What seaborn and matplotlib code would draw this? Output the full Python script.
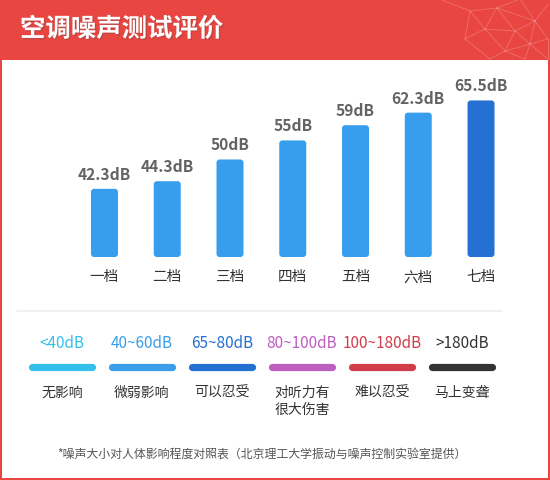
import numpy as np
import pandas as pd
import matplotlib
matplotlib.use("Agg")
import matplotlib.pyplot as plt
import seaborn as sns
from matplotlib.patches import FancyBboxPatch, Rectangle
import matplotlib.patheffects as pe

# ---- data ----
gears = ["一档", "二档", "三档", "四档", "五档", "六档", "七档"]
noise_db = [42.3, 44.3, 50, 55, 59, 62.3, 65.5]
bar_colors = ["#369EEC"] * 6 + ["#2571D3"]

range_labels = ["<40dB", "40~60dB", "65~80dB", "80~100dB", "100~180dB", ">180dB"]
range_effects = ["无影响", "微弱影响", "可以忍受", "对听力有\n很大伤害", "难以忍受", "马上变聋"]
range_colors = ["#35C0EC", "#3A9EE8", "#2470D0", "#BE5EC1", "#D13C4A", "#333333"]

title = "空调噪声测试评价"
footnote = "*噪声大小对人体影响程度对照表（北京理工大学振动与噪声控制实验室提供）"

sns.set_theme(style="white")
plt.rcParams["font.family"] = ["Noto Sans CJK SC", "DejaVu Sans"]

RED = "#E94541"
W, H = 550, 481

fig = plt.figure(figsize=(W / 100, H / 100), dpi=100)
fig.patch.set_facecolor(RED)

def px_axes(x0, y0, x1, y1, **kw):
    # axes in pixel coords (top-left origin)
    return fig.add_axes([x0 / W, 1 - y1 / H, (x1 - x0) / W, (y1 - y0) / H], **kw)

# background / decorations
bg = px_axes(0, 0, W, H)
bg.set_xlim(0, W)
bg.set_ylim(H, 0)
bg.axis("off")
bg.add_patch(Rectangle((2, 61), W - 4, H - 63, facecolor="white", edgecolor="none"))

# faint polygon pattern top-right
pts = {
    "a": (440, 0), "b": (470, 12), "c": (497, 9), "d": (520, 0), "e": (535, 22),
    "f": (548, 5), "g": (515, 32), "h": (485, 30), "i": (530, 45), "j": (548, 40),
    "k": (505, 52), "l": (465, 40), "m": (548, 60), "n": (525, 60), "o": (490, 60),
}
edges = ["ab", "bc", "cd", "ce", "de", "ef", "eg", "cg", "ch", "bh", "hg", "gi",
         "ei", "ij", "ej", "gk", "ik", "hk", "hl", "bl", "kn", "in", "im", "jm", "ko", "lo"]
for e in edges:
    (x0, y0), (x1, y1) = pts[e[0]], pts[e[1]]
    bg.plot([x0, x1], [y0, y1], color="white", alpha=0.2, lw=0.7)

bg.text(20, 30, title, color="white", fontsize=18.3, fontweight="bold",
        ha="left", va="center",
        path_effects=[pe.withSimplePatchShadow(offset=(1, -1), alpha=0.25)])

bg.plot([17, 502], [312, 312], color="#EEEEEE", lw=1.2)
bg.text(262, 454, footnote, color="#555555", fontsize=8.6, ha="center", va="center")

# ---- bar chart ----
df = pd.DataFrame({"gear": gears, "db": noise_db})
ax = px_axes(73.1, 84.3, 512.4, 258)
sns.barplot(data=df, x="gear", y="db", hue="gear", palette=bar_colors,
            width=0.43, legend=False, ax=ax, saturation=1)
ax.set_xlim(-0.5, 6.5)
ax.set_ylim(24.4, 70)
ax.axis("on")
ax.set_facecolor("none")
for s in ax.spines.values():
    s.set_visible(False)
ax.set_yticks([])
ax.set_xlabel("")
ax.set_ylabel("")
ax.tick_params(axis="x", length=0, pad=9, labelsize=10.5, labelcolor="#333333")

# rounded bars
aspect = (45.6 / 173.7) / (7 / 439.3)
for p, c in zip(list(ax.patches), bar_colors):
    x, y, w, h = p.get_x(), p.get_y(), p.get_width(), p.get_height()
    p.remove()
    ax.add_patch(FancyBboxPatch((x, 24.4), w, y + h - 24.4,
                                boxstyle="round,pad=0,rounding_size=0.05",
                                mutation_aspect=aspect, facecolor=c, edgecolor="none"))

for i, v in enumerate(noise_db):
    ax.annotate(f"{v:g}dB", (i, v), xytext=(0, 15), textcoords="offset pixels",
                ha="center", va="center", fontsize=11.2, fontweight="bold",
                color="#636363", annotation_clip=False)

# ---- legend strip ----
lg = px_axes(22, 320, 502, 430)
lg.set_xlim(-0.5, 5.5)
lg.set_ylim(430, 320)
lg.axis("off")
for i, (lab, eff, col) in enumerate(zip(range_labels, range_effects, range_colors)):
    lg.text(i, 343, lab, color=col, fontsize=11, ha="center", va="center")
    lg.plot([i - 0.375, i + 0.375], [368, 368], color=col, lw=5.2,
            solid_capstyle="round")
    lg.text(i, 386, eff, color="#333333", fontsize=10, ha="center", va="top",
            linespacing=1.3)

fig.savefig("out.png", dpi=100)
